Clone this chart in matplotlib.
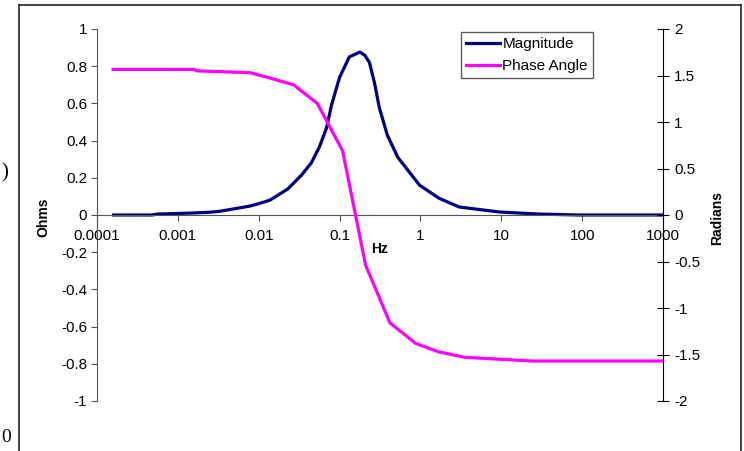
import matplotlib
matplotlib.use("Agg")
import matplotlib.pyplot as plt
from matplotlib.lines import Line2D

plt.rcParams["font.family"] = ["Liberation Sans", "DejaVu Sans"]

# magnitude (ohms) vs frequency (Hz)
mag_freq = [1.6e-4, 4.8e-4, 5.6e-4, 1.4e-3, 2.5e-3, 3.3e-3, 7.8e-3, 9.8e-3,
            0.0138, 0.0229, 0.0339, 0.0447, 0.0562, 0.0692, 0.0794, 0.100,
            0.132, 0.178, 0.204, 0.234, 0.269, 0.309, 0.389, 0.525, 0.977,
            1.70, 3.02, 9.5, 29.5, 91, 1000]
magnitude = [0.0, 0.0, 0.005, 0.01, 0.015, 0.02, 0.048, 0.06,
             0.08, 0.14, 0.215, 0.28, 0.365, 0.47, 0.59, 0.74,
             0.85, 0.876, 0.86, 0.82, 0.715, 0.58, 0.43, 0.31, 0.16,
             0.09, 0.043, 0.016, 0.005, 0.0, 0.0]

# phase angle (radians) vs frequency (Hz)
phase_freq = [1.58e-4, 1.6e-3, 1.7e-3, 7.8e-3, 0.0129, 0.027, 0.053, 0.109,
              0.21, 0.42, 0.87, 1.66, 3.5, 24, 1000]
phase = [1.565, 1.565, 1.55, 1.53, 1.48, 1.40, 1.20, 0.69,
         -0.54, -1.16, -1.38, -1.47, -1.53, -1.57, -1.57]

x_ticks = [1e-4, 1e-3, 1e-2, 1e-1, 1, 10, 100, 1000]
x_labels = ["0.0001", "0.001", "0.01", "0.1", "1", "10", "100", "1000"]
ohm_ticks = [1, 0.8, 0.6, 0.4, 0.2, 0, -0.2, -0.4, -0.6, -0.8, -1]
rad_ticks = [2, 1.5, 1, 0.5, 0, -0.5, -1, -1.5, -2]

W, H = 744, 451
fig = plt.figure(figsize=(W / 100, H / 100), dpi=100)
ax = fig.add_axes([97 / W, 1 - 401 / H, (663 - 97) / W, (401 - 29) / H])
ax2 = ax.twinx()

fs = 11
axis_grey = "#555555"

ax.set_xscale("log")
ax.set_xlim(1e-4, 1000)
ax.set_ylim(-1, 1)
ax.set_xticks(x_ticks)
ax.set_xticklabels(x_labels)
ax.xaxis.set_minor_locator(matplotlib.ticker.NullLocator())
ax.set_yticks(ohm_ticks)
ax.set_yticklabels([f"{v:g}" for v in ohm_ticks])
ax.spines["top"].set_visible(False)
ax.spines["right"].set_visible(False)
ax.spines["bottom"].set_position(("data", 0))
ax.spines["bottom"].set_color(axis_grey)
ax.spines["left"].set_color(axis_grey)
ax.tick_params(axis="both", direction="out", length=4, color=axis_grey,
               labelsize=fs, pad=3)
ax.tick_params(axis="x", pad=6)

ax2.set_ylim(-2, 2)
ax2.set_yticks(rad_ticks)
ax2.set_yticklabels([f"{v:g}" for v in rad_ticks])
for s in ["top", "left", "bottom"]:
    ax2.spines[s].set_visible(False)
ax2.spines["right"].set_color("black")
ax2.tick_params(axis="y", direction="inout", length=8, labelsize=fs, pad=4)

l1, = ax.plot(mag_freq, magnitude, color="#000080", lw=2.3,
              solid_joinstyle="round", label="Magnitude")
l2, = ax2.plot(phase_freq, phase, color="#FF00FF", lw=2.3,
               solid_joinstyle="round", label="Phase Angle")

fig.text(379 / W, 1 - 249 / H, "Hz", fontsize=10, fontweight="bold",
         ha="center", va="center")
fig.text(43 / W, 1 - 217 / H, "Ohms", fontsize=10, fontweight="bold",
         rotation=90, ha="center", va="center")
fig.text(717 / W, 1 - 218 / H, "Radians", fontsize=10, fontweight="bold",
         rotation=90, ha="center", va="center")

leg = fig.legend([l1, l2], ["Magnitude", "Phase Angle"],
                 loc="upper left", bbox_to_anchor=(461 / W, 1 - 32 / H),
                 bbox_transform=fig.transFigure, fontsize=fs,
                 frameon=True, fancybox=False, borderaxespad=0,
                 handlelength=2.2, handletextpad=0.15, labelspacing=0.5,
                 borderpad=0.35)
leg.get_frame().set_edgecolor("#333333")
leg.get_frame().set_linewidth(1)

# outer chart frame (bottom edge is off the picture)
frame_kw = dict(color="#222222", lw=1.2, transform=fig.transFigure)
fig.add_artist(Line2D([19 / W, 19 / W], [1 - 5 / H, -0.05], **frame_kw))
fig.add_artist(Line2D([19 / W, 741 / W], [1 - 5 / H, 1 - 5 / H], **frame_kw))
fig.add_artist(Line2D([741 / W, 741 / W], [1 - 5 / H, -0.05], **frame_kw))

# page fragments at the left edge
fig.text(1 / W, 1 - 173 / H, ")", fontsize=15, family="Liberation Serif",
         ha="left", va="center")
fig.text(1 / W, 1 - 438 / H, "0", fontsize=14, family="Liberation Serif",
         ha="left", va="center")

fig.savefig("out.png", dpi=100)
